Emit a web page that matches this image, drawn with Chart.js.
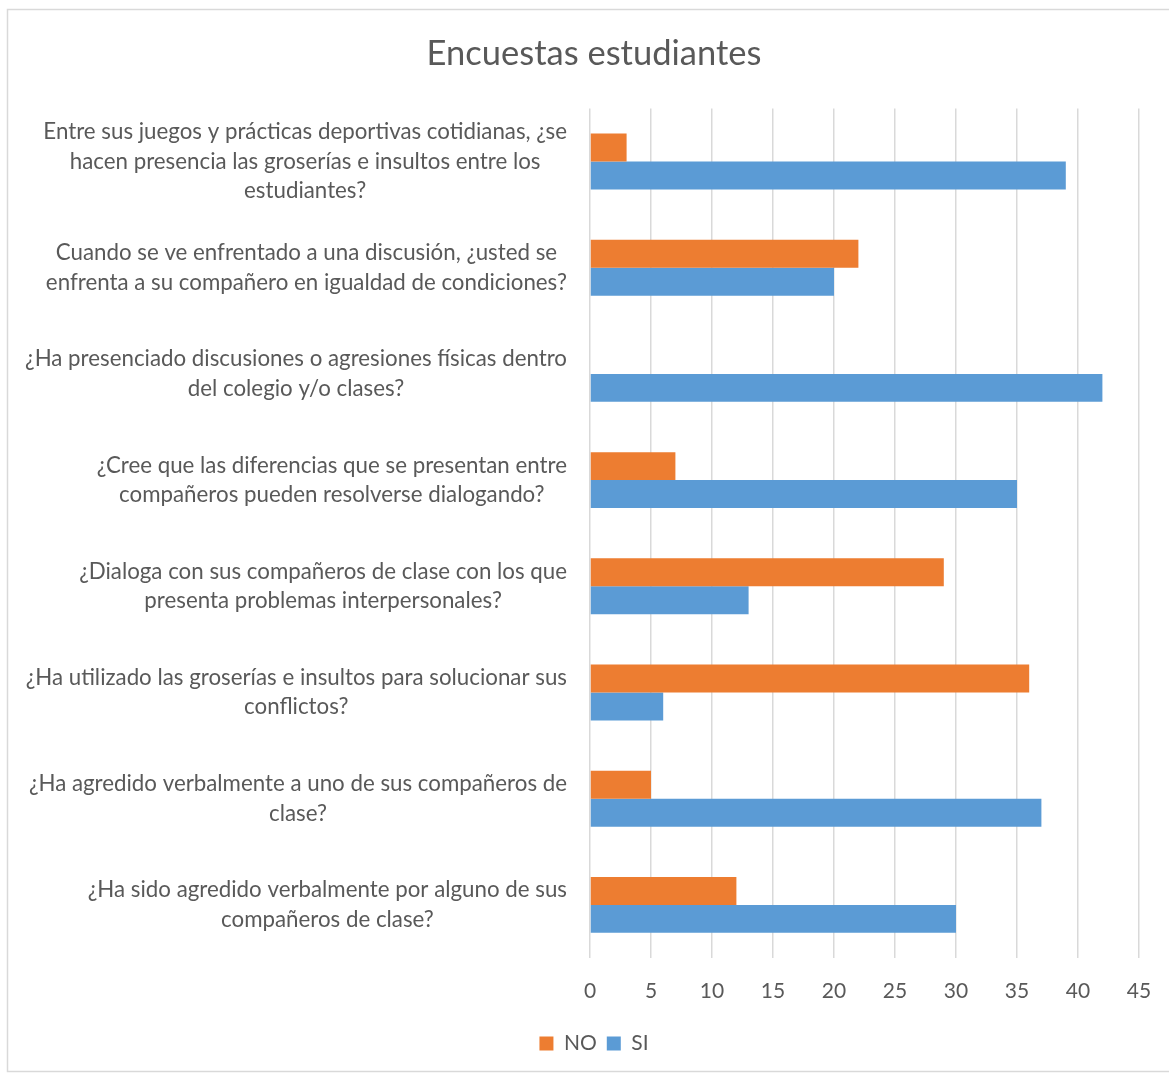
<!DOCTYPE html>
<html>
<head>
<meta charset="utf-8">
<script src="https://cdn.jsdelivr.net/npm/chart.js@4"></script>
<style>
html,body{margin:0;padding:0;background:#fff;}
canvas{display:block;}
</style>
</head>
<body>
<canvas id="c" width="1169" height="1075"></canvas>
<script>
const titleText = "Encuestas estudiantes";
const categories = [
  ["Entre sus juegos y prácticas deportivas cotidianas, ¿se", "hacen presencia las groserías e insultos entre los", "estudiantes?"],
  ["Cuando se ve enfrentado a una discusión, ¿usted se", "enfrenta a su compañero en igualdad de condiciones?"],
  ["¿Ha presenciado discusiones o agresiones físicas dentro", "del colegio y/o clases?"],
  ["¿Cree que las diferencias que se presentan entre", "compañeros pueden resolverse dialogando?"],
  ["¿Dialoga con sus compañeros de clase con los que", "presenta problemas interpersonales?"],
  ["¿Ha utilizado las groserías e insultos para solucionar sus", "conflictos?"],
  ["¿Ha agredido verbalmente a uno de sus compañeros de", "clase?"],
  ["¿Ha sido agredido verbalmente por alguno de sus", "compañeros de clase?"]
];
const seriesNames = ["NO", "SI"];
const noValues = [3, 22, 0, 7, 29, 36, 5, 12];
const siValues = [39, 20, 42, 35, 13, 6, 37, 30];
const xMin = 0, xMax = 45, xStep = 5;

const FONT = "Lato";
const TEXT = "#595959";
const LABEL_SIZE = 22.3;

const borderPlugin = {
  id: 'outerBorder',
  beforeDraw(chart) {
    const ctx = chart.ctx;
    ctx.save();
    ctx.fillStyle = '#fff';
    ctx.fillRect(0, 0, chart.width, chart.height);
    ctx.strokeStyle = '#d9d9d9';
    ctx.lineWidth = 1.5;
    ctx.strokeRect(7.5, 9.5, 1170, 1062);
    ctx.restore();
  }
};

const yLabelPlugin = {
  id: 'yLabels',
  afterDraw(chart) {
    const ctx = chart.ctx;
    const ys = chart.scales.y;
    const rightEdge = chart.chartArea.left - 23;
    const lineH = 29.3;
    ctx.save();
    ctx.font = LABEL_SIZE + "px " + FONT;
    ctx.fillStyle = TEXT;
    ctx.textAlign = 'center';
    ctx.textBaseline = 'middle';
    categories.forEach((lines, i) => {
      const yc = ys.getPixelForTick(i);
      let w = 0;
      lines.forEach(l => { w = Math.max(w, ctx.measureText(l).width); });
      const cx = rightEdge - w / 2;
      const y0 = yc - (lines.length - 1) * lineH / 2;
      lines.forEach((l, k) => ctx.fillText(l, cx, y0 + k * lineH));
    });
    ctx.restore();
  }
};

new Chart(document.getElementById('c'), {
  type: 'bar',
  data: {
    labels: categories,
    datasets: [
      { label: seriesNames[0], data: noValues, backgroundColor: '#ED7D31', borderWidth: 0 },
      { label: seriesNames[1], data: siValues, backgroundColor: '#5B9BD5', borderWidth: 0 }
    ]
  },
  options: {
    indexAxis: 'y',
    responsive: false,
    animation: false,
    devicePixelRatio: 1,
    layout: { padding: { left: 19, right: 0, top: 0, bottom: 11 } },
    datasets: { bar: { categoryPercentage: 0.526, barPercentage: 1.0 } },
    plugins: {
      title: {
        display: true,
        text: titleText,
        color: TEXT,
        font: { family: FONT, size: 34.5, weight: 'normal' },
        padding: { top: 33, bottom: 34 }
      },
      legend: {
        position: 'bottom',
        labels: {
          color: TEXT,
          font: { family: FONT, size: 21 },
          boxWidth: 14,
          boxHeight: 14,
          padding: 10
        }
      },
      tooltip: { enabled: false }
    },
    scales: {
      x: {
        min: xMin, max: xMax,
        ticks: { stepSize: xStep, color: TEXT, font: { family: FONT, size: 21 }, padding: 3 },
        grid: { color: '#d9d9d9', lineWidth: 1.5, drawTicks: true, tickLength: 18, tickColor: 'rgba(0,0,0,0)' },
        border: { display: false },
        afterFit(scale) { scale.height = 65; }
      },
      y: {
        ticks: { display: false },
        grid: { display: false },
        border: { display: false },
        afterFit(scale) { scale.width = 571; }
      },
      yRight: {
        type: 'linear',
        axis: 'y',
        position: 'right',
        display: true,
        ticks: { display: false },
        grid: { display: false },
        border: { display: false },
        afterFit(scale) { scale.width = 30; }
      }
    }
  },
  plugins: [borderPlugin, yLabelPlugin]
});
</script>
</body>
</html>
